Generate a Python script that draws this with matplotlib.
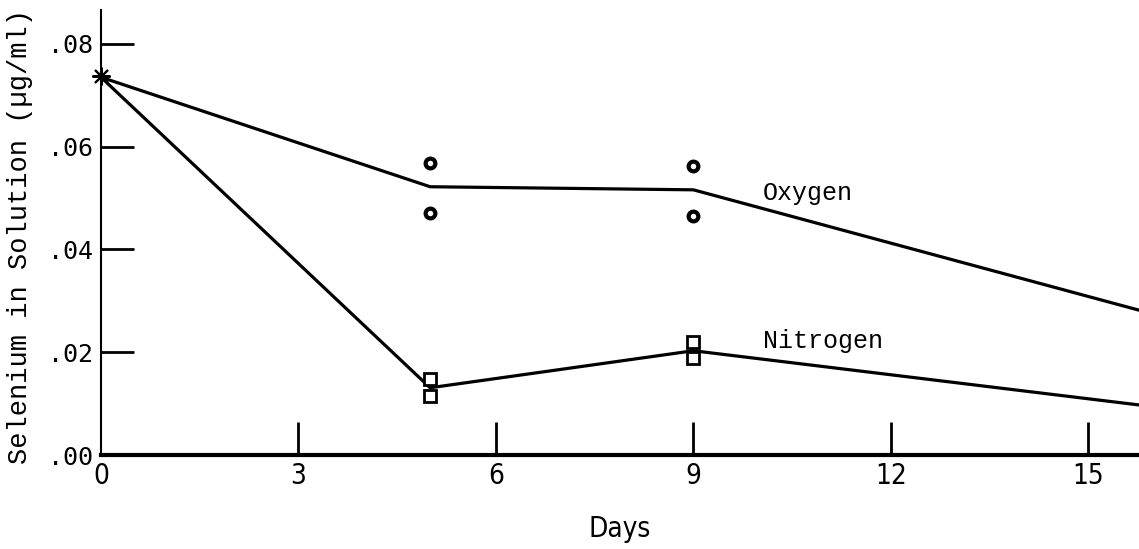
import matplotlib.pyplot as plt

# values
Days_Line=[0, 5, 9, 16]
Oxygen_Line=[0.0735, 0.0522, 0.0516, 0.0274]
Nitrogen_Line=[0.0735, 0.0131, 0.0203, 0.0094]
Oxygen_Days=[5, 5, 9, 9]
Oxygen_Points=[0.0568, 0.0471, 0.0562, 0.0465]
Nitrogen_Days=[5, 5, 9, 9]
Nitrogen_Points=[0.0148, 0.0115, 0.0220, 0.0189]
Start_Day=[0]
Start_Value=[0.0738]
X_Ticks=[0, 3, 6, 9, 12, 15]
X_Tick_Labels=["0", "3", "6", "9", "12", "15"]
Y_Ticks=[0.00, 0.02, 0.04, 0.06, 0.08]
Y_Tick_Labels=[".00", ".02", ".04", ".06", ".08"]

fig=plt.figure(figsize=(11.39, 5.49), dpi=100)
ax=fig.add_axes([0.0887, 0.171, 0.9113, 0.811])

ax.plot(Days_Line, Oxygen_Line, color="black", lw=2.3, solid_capstyle="butt")
ax.plot(Days_Line, Nitrogen_Line, color="black", lw=2.3, solid_capstyle="butt")
ax.plot(Oxygen_Days, Oxygen_Points, "o", ms=7, mfc="white", mec="black", mew=3, ls="none")
ax.plot(Nitrogen_Days, Nitrogen_Points, "s", ms=8, mfc="white", mec="black", mew=2, ls="none")
ax.plot(Start_Day, Start_Value, marker=(8, 2, 0), ms=13, mec="black", mew=1.5, ls="none", clip_on=False, zorder=5)

ax.text(10.05, 0.0509, "Oxygen", family="Liberation Mono", fontsize=18, ha="left", va="center")
ax.text(10.05, 0.0221, "Nitrogen", family="Liberation Mono", fontsize=18, ha="left", va="center")

ax.set_xlim(0, 15.77)
ax.set_ylim(0, 0.0866)
ax.spines["top"].set_visible(False)
ax.spines["right"].set_visible(False)
ax.spines["left"].set_linewidth(1.5)
ax.spines["left"].set_linestyle((0, (6, 1)))
ax.spines["bottom"].set_linewidth(3)

ax.set_xticks(X_Ticks)
ax.set_xticklabels(X_Tick_Labels, family="DejaVu Sans", stretch="condensed", fontsize=20)
ax.set_yticks(Y_Ticks)
ax.set_yticklabels(Y_Tick_Labels, family="DejaVu Sans Mono", fontsize=18)
ax.tick_params(axis="x", direction="in", length=24, width=2, pad=5)
ax.tick_params(axis="y", direction="in", length=24, width=2, pad=6)
ax.xaxis.get_major_ticks()[0].tick1line.set_visible(False)
ax.yaxis.get_major_ticks()[0].tick1line.set_visible(False)

ax.set_xlabel("Days", family="DejaVu Sans", stretch="condensed", fontsize=20, labelpad=18)
ax.set_ylabel("Selenium in Solution (\u00b5g/ml)", family="Liberation Mono", fontsize=19.5)
ax.yaxis.set_label_coords(-0.066, 0.49)

fig.savefig("out.png", dpi=100)
